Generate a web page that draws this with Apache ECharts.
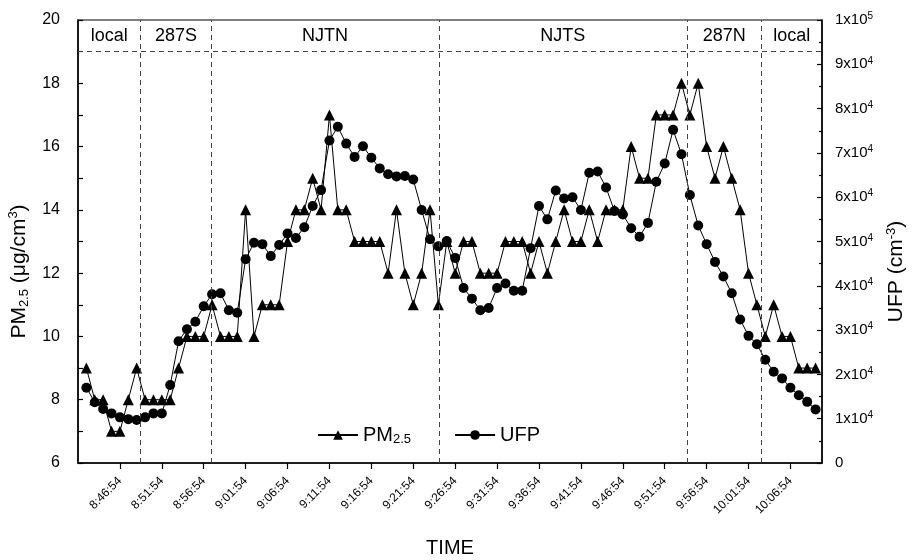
<!DOCTYPE html>
<html><head><meta charset="utf-8">
<script src="https://cdn.jsdelivr.net/npm/echarts@6/dist/echarts.min.js"></script>
<style>html,body{margin:0;padding:0;background:#fff}#c{width:913px;height:560px}</style>
</head><body><div id="c"></div>
<script>
// ---- data ----
const times = [
 '8:42:54','8:43:54','8:44:54','8:45:54','8:46:54','8:47:54','8:48:54','8:49:54','8:50:54','8:51:54',
 '8:52:54','8:53:54','8:54:54','8:55:54','8:56:54','8:57:54','8:58:54','8:59:54','9:00:54','9:01:54',
 '9:02:54','9:03:54','9:04:54','9:05:54','9:06:54','9:07:54','9:08:54','9:09:54','9:10:54','9:11:54',
 '9:12:54','9:13:54','9:14:54','9:15:54','9:16:54','9:17:54','9:18:54','9:19:54','9:20:54','9:21:54',
 '9:22:54','9:23:54','9:24:54','9:25:54','9:26:54','9:27:54','9:28:54','9:29:54','9:30:54','9:31:54',
 '9:32:54','9:33:54','9:34:54','9:35:54','9:36:54','9:37:54','9:38:54','9:39:54','9:40:54','9:41:54',
 '9:42:54','9:43:54','9:44:54','9:45:54','9:46:54','9:47:54','9:48:54','9:49:54','9:50:54','9:51:54',
 '9:52:54','9:53:54','9:54:54','9:55:54','9:56:54','9:57:54','9:58:54','9:59:54','10:00:54','10:01:54',
 '10:02:54','10:03:54','10:04:54','10:05:54','10:06:54','10:07:54','10:08:54','10:09:54'
];
const pm25 = [
 9,8,8,7,7,8,9,8,8,8,
 8,9,10,10,10,11,10,10,10,14,
 10,11,11,11,13,14,14,15,14,17,
 14,14,13,13,13,13,12,14,12,11,
 12,14,11,13,12,13,13,12,12,12,
 13,13,13,12,13,12,13,14,13,13,
 14,13,14,14,14,16,15,15,17,17,
 17,18,17,18,16,15,16,15,14,12,
 11,10,11,10,10,9,9,9
];
const ufp = [
 17000,13700,12200,11200,10300,9900,9700,10300,11200,11200,
 17600,27500,30200,31900,35400,38100,38300,34500,33900,46000,
 49700,49400,46700,49200,51800,50800,53200,58000,61600,72800,
 75900,72100,69100,71500,68900,66500,65200,64700,64800,64000,
 57100,50500,48900,50100,46300,39500,37100,34500,35000,39500,
 40500,38900,38900,48500,58000,55000,61500,59700,60000,57100,
 65500,65800,62200,56900,56100,53000,51100,54200,63500,67600,
 75200,69700,60500,53600,49400,45400,42100,38300,32400,28700,
 26800,23300,20600,19100,17000,15300,13800,12100
];
const tickLabels = ['8:46:54','8:51:54','8:56:54','9:01:54','9:06:54','9:11:54','9:16:54','9:21:54',
 '9:26:54','9:31:54','9:36:54','9:41:54','9:46:54','9:51:54','9:56:54','10:01:54','10:06:54'];
const segmentBounds = ['8:49:23','8:57:47','9:24:57','9:54:32','10:03:28'];
const segmentNames = ['local','287S','NJTN','NJTS','287N','local'];
const axisStart = '8:41:54', axisEnd = '10:10:40';
const routeLineLevel = 19;

// ---- helpers ----
function toMin(s){const p=s.split(':').map(Number);return p[0]*60+p[1]+p[2]/60;}
function fmt(v){const t=Math.round(v*60);const h=Math.floor(t/3600);const m=Math.floor((t%3600)/60);const s=t%60;
 return h+':'+String(m).padStart(2,'0')+':'+String(s).padStart(2,'0');}
const xs = times.map(toMin);
const xMin = toMin(axisStart), xMax = toMin(axisEnd);
const bounds = segmentBounds.map(toMin);
const edges = [xMin].concat(bounds, [xMax]);
const FONT = 'Liberation Sans, Arial, sans-serif';

const chart = echarts.init(document.getElementById('c'), null, {renderer:'canvas'});
chart.setOption({
 animation:false,
 textStyle:{fontFamily:FONT,color:'#000'},
 grid:{left:78,right:91,top:20,bottom:97,show:true,borderColor:'#000',borderWidth:1.2,containLabel:false,outerBoundsMode:'none'},
 legend:{
  left:312, top:420, itemGap:43, itemWidth:40, itemHeight:12,
  textStyle:{fontSize:20,fontFamily:FONT,color:'#000',rich:{sub:{fontSize:13,verticalAlign:'bottom',padding:[9,0,0,0],fontFamily:FONT}}},
  formatter:n=> n==='PM2.5' ? 'PM{sub|2.5}' : n,
  data:['PM2.5','UFP']
 },
 xAxis:{
  type:'value', min:xMin, max:xMax,
  name:'TIME', nameLocation:'middle', nameGap:75,
  nameTextStyle:{fontSize:20,fontFamily:FONT,color:'#000'},
  axisLine:{show:true,lineStyle:{color:'#000',width:1.5}},
  axisTick:{show:true,inside:false,length:6,lineStyle:{color:'#000',width:1.2},customValues:tickLabels.map(toMin)},
  axisLabel:{rotate:45,fontSize:12,color:'#000',margin:16,fontFamily:FONT,customValues:tickLabels.map(toMin),formatter:v=>fmt(v)},
  splitLine:{show:false}
 },
 yAxis:[{
  type:'value', min:6, max:20, interval:2,
  name:'PM{sub|2.5} (μg/cm{sup|3})', nameLocation:'middle', nameGap:44, nameRotate:90,
  nameTextStyle:{fontSize:21,fontFamily:FONT,color:'#000',padding:[0,60,0,0],rich:{
    sub:{fontSize:13,verticalAlign:'bottom',padding:[11,0,0,0],fontFamily:FONT},
    sup:{fontSize:13,verticalAlign:'top',padding:[0,0,9,0],fontFamily:FONT}}},
  axisLine:{show:true,lineStyle:{color:'#000',width:1.5}},
  axisTick:{show:true,inside:true,length:5,lineStyle:{color:'#000',width:1.2}},
  minorTick:{show:true,splitNumber:2,length:5,lineStyle:{color:'#000',width:1.2}},
  axisLabel:{fontSize:16,color:'#000',margin:18,fontFamily:FONT},
  splitLine:{show:false}
 },{
  type:'value', min:0, max:100000, interval:10000, position:'right',
  name:'UFP (cm{sup|-3})', nameLocation:'middle', nameGap:63, nameRotate:90,
  nameTextStyle:{fontSize:21,fontFamily:FONT,color:'#000',padding:[0,60,0,0],rich:{
    sup:{fontSize:13,verticalAlign:'top',padding:[0,0,9,0],fontFamily:FONT}}},
  axisLine:{show:true,lineStyle:{color:'#000',width:1.5}},
  axisTick:{show:true,inside:true,length:5,lineStyle:{color:'#000',width:1.2}},
  minorTick:{show:true,splitNumber:2,length:3,lineStyle:{color:'#000',width:1.2}},
  axisLabel:{fontSize:15,color:'#000',margin:13,fontFamily:FONT,
   formatter:v=>{ if(v===0) return '0'; if(v===100000) return '1x10{sup|5}'; return (v/10000)+'x10{sup|4}'; },
   rich:{sup:{fontSize:10,verticalAlign:'top',padding:[0,0,7,0],fontFamily:FONT}}},
  splitLine:{show:false}
 }],
 series:[{
  name:'PM2.5', type:'line', yAxisIndex:0,
  data:xs.map((x,i)=>[x,pm25[i]]),
  symbol:'triangle', symbolSize:11,
  lineStyle:{color:'#000',width:1}, itemStyle:{color:'#000'},
  markLine:{silent:true, symbol:'none', label:{show:false},
   lineStyle:{type:[5,4],color:'#444',width:1},
   data: bounds.map(b=>({xAxis:b})).concat([{yAxis:routeLineLevel}])},
  markArea:{silent:true, itemStyle:{color:'rgba(0,0,0,0)'},
   label:{show:true,position:'inside',fontSize:18,color:'#000',fontFamily:FONT},
   data: segmentNames.map((n,i)=>[{name:n,xAxis:edges[i],yAxis:routeLineLevel},{xAxis:edges[i+1],yAxis:20}])}
 },{
  name:'UFP', type:'line', yAxisIndex:1,
  data:xs.map((x,i)=>[x,ufp[i]]),
  symbol:'circle', symbolSize:10,
  lineStyle:{color:'#000',width:1}, itemStyle:{color:'#000'}
 }]
});
</script></body></html>
